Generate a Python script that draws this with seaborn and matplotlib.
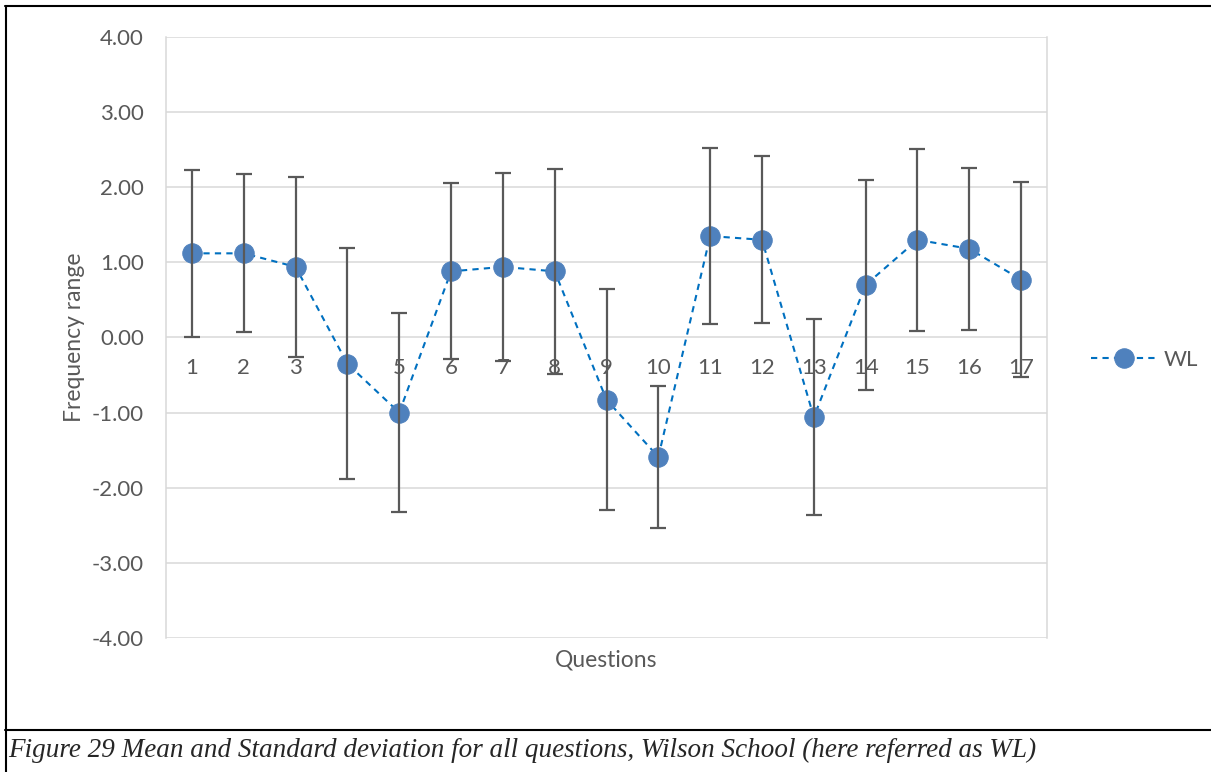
import seaborn as sns
import matplotlib.pyplot as plt
import matplotlib.lines as mlines
import pandas as pd

questions = list(range(1, 18))
means = [1.12, 1.12, 0.94, -0.35, -1.00, 0.88, 0.94, 0.88, -0.83, -1.59,
         1.35, 1.30, -1.06, 0.70, 1.30, 1.18, 0.77]
sds = [1.11, 1.05, 1.20, 1.54, 1.32, 1.17, 1.25, 1.36, 1.47, 0.94,
       1.17, 1.11, 1.30, 1.40, 1.21, 1.08, 1.30]
y_ticks = [-4, -3, -2, -1, 0, 1, 2, 3, 4]

df = pd.DataFrame({'question': questions, 'mean': means, 'sd': sds})

sns.set_style('white')
plt.rcParams['font.family'] = ['Lato', 'DejaVu Sans']
plt.rcParams['axes.unicode_minus'] = False

grey = '#595959'
fig = plt.figure(figsize=(12.11, 7.72), dpi=100)
ax = fig.add_axes([0.1371, 0.1736, 0.7275, 0.7785])

sns.lineplot(data=df, x='question', y='mean', ax=ax, color='#0070C0',
             linestyle='--', dashes=False, linewidth=1.5, marker='o',
             markersize=14, markerfacecolor='#4F81BD', markeredgecolor='#4F81BD',
             label='WL', zorder=2)
ax.lines[0].set_dashes((3, 2.5))
ax.errorbar(df['question'], df['mean'], yerr=df['sd'], fmt='none',
            ecolor=grey, elinewidth=1.6, capsize=6, capthick=1.6, zorder=3)

ax.set_xlim(0.5, 17.5)
ax.set_ylim(-4, 4)
ax.set_yticks(y_ticks)
ax.set_yticklabels([f'{v:.2f}' for v in y_ticks])
ax.set_xticks(questions)
ax.set_xticklabels([str(q) for q in questions])
ax.yaxis.grid(True, color='#D9D9D9', linewidth=1.1)
ax.set_axisbelow(True)

ax.spines['bottom'].set_position(('data', 0))
ax.spines['bottom'].set_visible(False)
ax.spines['top'].set_visible(False)
for s in ('left', 'right'):
    ax.spines[s].set_color('#D9D9D9')
    ax.spines[s].set_linewidth(1.1)

ax.tick_params(axis='x', length=0, pad=15, labelsize=16, labelcolor=grey)
ax.tick_params(axis='y', length=0, pad=16, labelsize=16, labelcolor=grey)

ax.set_xlabel('Questions', fontsize=16.5, color=grey)
ax.set_ylabel('Frequency range', fontsize=16.5, color=grey)
ax.xaxis.set_label_coords(0.5, -0.037)
ax.xaxis.label.set_va('center')
ax.yaxis.set_label_coords(-0.104, 0.5)
ax.yaxis.label.set_va('center')

leg = ax.legend(loc='center left', bbox_to_anchor=(0.884, 0.534),
                bbox_transform=fig.transFigure, frameon=False, fontsize=16,
                handlelength=3.0, handletextpad=0.3)
for t in leg.get_texts():
    t.set_color(grey)

# document frame and caption
W, H = 1211, 772
fig.add_artist(mlines.Line2D([5.5 / W, 5.5 / W], [0, 1 - 6 / H], color='black', lw=1.5))
fig.add_artist(mlines.Line2D([5 / W, 1], [1 - 6 / H, 1 - 6 / H], color='black', lw=1.5))
fig.add_artist(mlines.Line2D([5 / W, 1], [1 - 730 / H, 1 - 730 / H], color='black', lw=1.5))
fig.text(8 / W, 1 - 750 / H,
         'Figure 29 Mean and Standard deviation for all questions, Wilson School (here referred as WL)',
         family='Liberation Serif', style='italic', fontsize=19.5, va='center', ha='left')

fig.savefig('out.png', dpi=100)
